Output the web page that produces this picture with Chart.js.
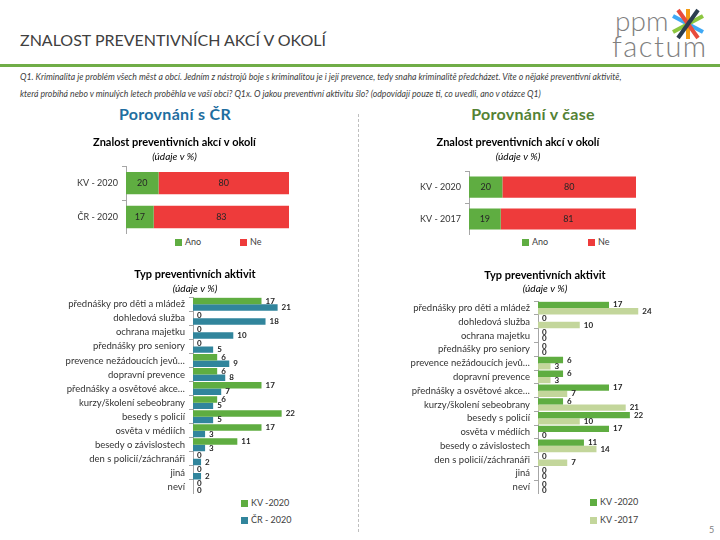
<!DOCTYPE html>
<html>
<head>
<meta charset="utf-8">
<script src="https://cdn.jsdelivr.net/npm/chart.js@4.4.1/dist/chart.umd.min.js"></script>
<style>
body{margin:0;width:720px;height:540px;position:relative;background:#fff;font-family:Lato,"Liberation Sans",sans-serif;overflow:hidden;color:#404040}
.abs{position:absolute}
.leg{position:absolute;font-size:9px;color:#404040;line-height:10px;white-space:nowrap}
.box{display:inline-block;width:7px;height:7px;margin-right:3px;vertical-align:-1px}
</style>
</head>
<body>
<div class="abs" style="left:20px;top:30px;font-size:16px;color:#404040">ZNALOST PREVENTIVNÍCH AKCÍ V OKOLÍ</div>
<div class="abs" style="left:615px;top:6px;font-size:28px;font-weight:300;color:#7f7f7f;line-height:28px">ppm</div>
<div class="abs" style="left:612px;top:32px;font-size:29px;font-weight:300;color:#7f7f7f;line-height:28px;letter-spacing:1.5px">factum</div>
<svg class="abs" style="left:670px;top:8px" width="36" height="32">
  <g stroke-width="4" stroke-linecap="butt">
    <line x1="18" y1="1" x2="18" y2="31" stroke="#f39c12"/>
    <line x1="3" y1="8" x2="33" y2="24" stroke="#3fa9f5"/>
    <line x1="3" y1="24" x2="33" y2="8" stroke="#8cc63f"/>
    <line x1="8" y1="2" x2="28" y2="30" stroke="#e84c3d"/>
    <line x1="28" y1="2" x2="8" y2="30" stroke="#2c3e50"/>
  </g>
</svg>
<div class="abs" style="left:0;top:64px;width:720px;height:3px;background:#70ad47"></div>
<div class="abs" style="left:20px;top:68px;font-size:8.7px;font-style:italic;line-height:17px;color:#404040;white-space:nowrap">Q1. Kriminalita je problém všech měst a obcí. Jedním z nástrojů boje s kriminalitou je i její prevence, tedy snaha kriminalitě předcházet. Víte o nějaké preventivní aktivitě,<br>která probíhá nebo v minulých letech proběhla ve vaší obci? Q1x. O jakou preventivní aktivitu šlo? (odpovídají pouze ti, co uvedli, ano v otázce Q1)</div>
<div class="abs" style="left:75px;top:104px;width:200px;text-align:center;font-size:16px;letter-spacing:0.3px;font-weight:bold;color:#1f6ea0">Porovnání s ČR</div>
<div class="abs" style="left:433px;top:104px;width:200px;text-align:center;font-size:16px;letter-spacing:0.3px;font-weight:bold;color:#548235">Porovnání v čase</div>
<div class="abs" style="left:358px;top:114px;height:418px;border-left:1px dashed #bfbfbf"></div>
<div class="abs" style="left:709px;top:524px;font-size:9px;color:#7f7f7f">5</div>

<div class="abs" style="left:60px;top:128px;width:265px;height:106px"><canvas id="c1"></canvas></div>
<div class="abs" style="left:400px;top:128px;width:265px;height:107px"><canvas id="c2"></canvas></div>
<div class="abs" style="left:60px;top:263px;width:270px;height:231px"><canvas id="c3"></canvas></div>
<div class="abs" style="left:410px;top:263px;width:270px;height:231px"><canvas id="c4"></canvas></div>

<div class="leg" style="left:175px;top:237px"><span class="box" style="background:#5fad41"></span>Ano</div>
<div class="leg" style="left:240px;top:237px"><span class="box" style="background:#ee3b3b"></span>Ne</div>
<div class="leg" style="left:522px;top:237px"><span class="box" style="background:#5fad41"></span>Ano</div>
<div class="leg" style="left:588px;top:237px"><span class="box" style="background:#ee3b3b"></span>Ne</div>
<div class="leg" style="left:241px;top:498px"><span class="box" style="background:#5fad41"></span>KV -2020</div>
<div class="leg" style="left:241px;top:515px"><span class="box" style="background:#31859c"></span>ČR - 2020</div>
<div class="leg" style="left:590px;top:497px"><span class="box" style="background:#5fad41"></span>KV -2020</div>
<div class="leg" style="left:590px;top:515px"><span class="box" style="background:#c3d69b"></span>KV -2017</div>

<script>
const znalostCR = ['KV - 2020', 'ČR - 2020'];
const znalostCas = ['KV - 2020', 'KV - 2017'];
const anoCR = [20, 17];
const neCR = [80, 83];
const anoCas = [20, 19];
const neCas = [80, 81];

const aktivity = ['přednášky pro děti a mládež', 'dohledová služba', 'ochrana majetku', 'přednášky pro seniory',
  'prevence nežádoucích jevů…', 'dopravní prevence', 'přednášky a osvětové akce…', 'kurzy/školení sebeobrany',
  'besedy s policií', 'osvěta v médiích', 'besedy o závislostech', 'den s policií/záchranáři', 'jiná', 'neví'];
const kv2020 = [17, 0, 0, 0, 6, 6, 17, 6, 22, 17, 11, 0, 0, 0];
const cr2020 = [21, 18, 10, 5, 9, 8, 7, 5, 5, 3, 3, 2, 2, 0];
const kv2017 = [24, 10, 0, 0, 3, 3, 7, 21, 10, 0, 14, 7, 0, 0];

const FONT = 'Lato, "Liberation Sans", sans-serif';
const ZELENA = '#5fad41', CERVENA = '#ee3b3b', MODRA = '#31859c', SVETLE = '#c3d69b';

// popisky hodnot u sloupcu
const hodnoty = {
  id: 'hodnoty',
  afterDatasetsDraw(chart, args, opts) {
    const ctx = chart.ctx;
    ctx.save();
    ctx.font = opts.font;
    ctx.fillStyle = '#262626';
    ctx.textBaseline = 'middle';
    chart.data.datasets.forEach((ds, i) => {
      chart.getDatasetMeta(i).data.forEach((bar, j) => {
        const v = ds.data[j];
        if (opts.inside) {
          ctx.textAlign = 'center';
          ctx.fillText(v, (bar.x + bar.base) / 2, bar.y);
        } else {
          ctx.textAlign = 'left';
          ctx.fillText(v, bar.x + 4, bar.y);
        }
      });
    });
    ctx.restore();
  }
};

function graf(id, labels, datasets, o) {
  new Chart(document.getElementById(id), {
    type: 'bar',
    data: {labels: labels, datasets: datasets},
    plugins: [hodnoty],
    options: {
      indexAxis: 'y',
      responsive: true,
      maintainAspectRatio: false,
      animation: false,
      layout: {padding: {right: o.padRight, bottom: 0, top: 0, left: 0}},
      datasets: {bar: {barPercentage: o.barPct, categoryPercentage: o.catPct}},
      scales: {
        x: {display: false, min: 0, max: o.max, stacked: o.stacked},
        y: {
          stacked: o.stacked,
          afterFit: s => { s.width = o.axisW; s.paddingTop = 0; s.paddingBottom = 0; },
          grid: {display: true, drawOnChartArea: false, drawTicks: true, tickLength: 4, color: '#a6a6a6', offset: true},
          border: {display: true, color: '#a6a6a6'},
          ticks: {autoSkip: false, color: '#333', padding: 4, font: {size: o.tickSize, family: FONT}}
        }
      },
      plugins: {
        legend: {display: false},
        tooltip: {enabled: false},
        title: {display: true, text: o.title, color: '#000', font: {size: 11, weight: 'bold', family: FONT},
          padding: {top: o.titleTop, bottom: o.titleBottom}},
        subtitle: {display: true, text: '(údaje v %)', color: '#000', font: {size: 10, style: 'italic', family: FONT},
          padding: {top: 0, bottom: o.subBottom}},
        hodnoty: {font: o.valFont, inside: o.stacked}
      }
    }
  });
}

graf('c1', znalostCR, [
  {label: 'Ano', data: anoCR, backgroundColor: ZELENA},
  {label: 'Ne', data: neCR, backgroundColor: CERVENA}
], {title: 'Znalost preventivních akcí v okolí', max: 100, stacked: true, axisW: 66, padRight: 36,
  barPct: 0.66, catPct: 1, tickSize: 9, valFont: '9px ' + FONT, titleTop: 8, titleBottom: 2, subBottom: 3});

graf('c2', znalostCas, [
  {label: 'Ano', data: anoCas, backgroundColor: ZELENA},
  {label: 'Ne', data: neCas, backgroundColor: CERVENA}
], {title: 'Znalost preventivních akcí v okolí', max: 100, stacked: true, axisW: 69, padRight: 29,
  barPct: 0.66, catPct: 1, tickSize: 9, valFont: '9px ' + FONT, titleTop: 8, titleBottom: 2, subBottom: 8});

graf('c3', aktivity, [
  {label: 'KV -2020', data: kv2020, backgroundColor: ZELENA},
  {label: 'ČR - 2020', data: cr2020, backgroundColor: MODRA}
], {title: 'Typ preventivních aktivit', max: 34, stacked: false, axisW: 133, padRight: 0,
  barPct: 1, catPct: 0.92, tickSize: 9.5, valFont: 'bold 8px ' + FONT, titleTop: 5, titleBottom: 2, subBottom: 2});

graf('c4', aktivity, [
  {label: 'KV -2020', data: kv2020, backgroundColor: ZELENA},
  {label: 'KV -2017', data: kv2017, backgroundColor: SVETLE}
], {title: 'Typ preventivních aktivit', max: 34, stacked: false, axisW: 128, padRight: 0,
  barPct: 1, catPct: 0.92, tickSize: 9.5, valFont: 'bold 8px ' + FONT, titleTop: 6, titleBottom: 1, subBottom: 6});
</script>
</body>
</html>
